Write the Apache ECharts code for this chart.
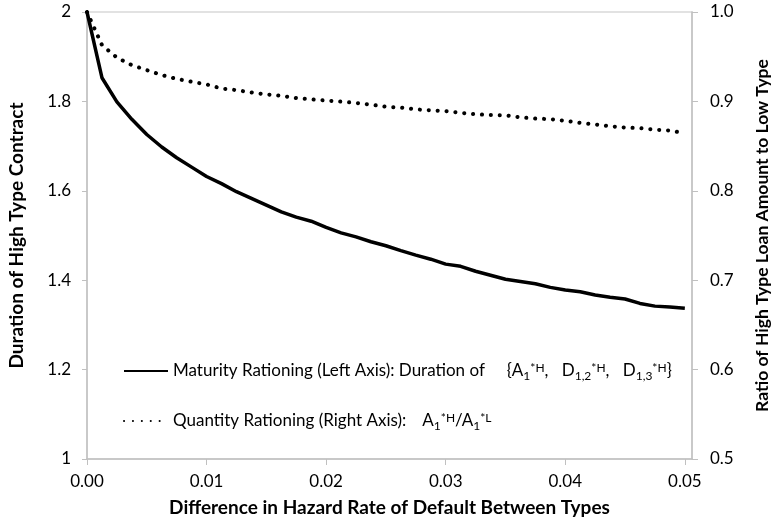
<!DOCTYPE html>
<html>
<head>
<meta charset="utf-8">
<script src="https://cdn.jsdelivr.net/npm/echarts@6/dist/echarts.min.js"></script>
<style>
  html, body { margin: 0; padding: 0; background: #fff; }
  #chart { width: 774px; height: 531px; }
</style>
</head>
<body>
<div id="chart"></div>
<script>
// difference in hazard rate (x)
const hazardDiff = [0, 0.00125, 0.0025, 0.00375, 0.005, 0.00625, 0.0075, 0.00875, 0.01, 0.01125,
  0.0125, 0.01375, 0.015, 0.01625, 0.0175, 0.01875, 0.02, 0.02125, 0.0225, 0.02375,
  0.025, 0.02625, 0.0275, 0.02875, 0.03, 0.03125, 0.0325, 0.03375, 0.035, 0.03625,
  0.0375, 0.03875, 0.04, 0.04125, 0.0425, 0.04375, 0.045, 0.04625, 0.0475, 0.04875, 0.05];
// maturity rationing, left axis
const durationHigh = [2.0, 1.853, 1.799, 1.76, 1.726, 1.698, 1.674, 1.653, 1.632, 1.616,
  1.598, 1.583, 1.568, 1.553, 1.541, 1.532, 1.518, 1.506, 1.497, 1.486,
  1.477, 1.466, 1.456, 1.447, 1.436, 1.431, 1.42, 1.411, 1.402, 1.397,
  1.392, 1.384, 1.378, 1.374, 1.367, 1.362, 1.358, 1.348, 1.342, 1.340, 1.337];
// quantity rationing, right axis
const loanRatio = [1.0, 0.963, 0.949, 0.9406, 0.935, 0.9294, 0.9252, 0.922, 0.919, 0.9144,
  0.9126, 0.910, 0.9078, 0.9063, 0.9037, 0.9022, 0.901, 0.8997, 0.8983, 0.8963,
  0.894, 0.8931, 0.8911, 0.89, 0.8892, 0.8872, 0.8856, 0.8848, 0.8844, 0.8822,
  0.8808, 0.8802, 0.8783, 0.8759, 0.8742, 0.8722, 0.8708, 0.87, 0.8684, 0.8674, 0.8644];

const FONT = 'Lato';
const axisGray = '#c0c0c0';

let chart = echarts.init(document.getElementById('chart'));

const rich = {
  t: { fontFamily: FONT, fontSize: 17, color: '#000', lineHeight: 24, verticalAlign: 'middle' },
  sub: { fontFamily: FONT, fontSize: 12, color: '#000', lineHeight: 24, verticalAlign: 'bottom', padding: [0, 0, 1, 0] },
  sup: { fontFamily: FONT, fontSize: 12, color: '#000', lineHeight: 24, verticalAlign: 'top', padding: [3, 0, 0, 0] },
  gap1: { width: 22 },
  gap2: { width: 16 },
  sp: { width: 9 }
};

let option = {
  animation: false,
  backgroundColor: '#fff',
  grid: {
    left: 87, right: 82, top: 12, bottom: 72,
    outerBoundsMode: 'none',
    show: true, borderColor: '#d9d9d9', borderWidth: 1.5
  },
  legend: {
    orient: 'vertical',
    left: 118, top: 354,
    itemWidth: 44, itemHeight: 14,
    itemGap: 26,
    selectedMode: false,
    itemStyle: { color: 'rgba(0,0,0,0)', borderColor: 'rgba(0,0,0,0)', borderWidth: 0, opacity: 0 },
    textStyle: { fontFamily: FONT, fontSize: 17, color: '#000', rich: rich },
    formatter: function (name) {
      if (name === 'maturity') {
        return '{t|Maturity Rationing (Left Axis): Duration of}{gap1|}{t|{A}{sub|1}{sup|*H}{t|,}{sp|}{t| D}{sub|1,2}{sup|*H}{t|,}{sp|}{t| D}{sub|1,3}{sup|*H}}';
      }
      return '{t|Quantity Rationing (Right Axis):}{gap2|}{t|A}{sub|1}{sup|*H}{t|/A}{sub|1}{sup|*L}';
    },
    data: ['maturity', 'quantity']
  },
  xAxis: {
    type: 'value',
    min: 0, max: 0.0506, interval: 0.01,
    name: 'Difference in Hazard Rate of Default Between Types',
    nameLocation: 'middle', nameGap: 39,
    nameTextStyle: { fontFamily: FONT, fontSize: 19, fontWeight: 'bold', color: '#000' },
    axisLine: { show: true, lineStyle: { color: axisGray, width: 1.5 } },
    axisTick: { show: true, length: 6, lineStyle: { color: axisGray } },
    axisLabel: {
      fontFamily: FONT, fontSize: 17, color: '#000', margin: 14, showMaxLabel: false,
      formatter: v => v.toFixed(2)
    },
    splitLine: { show: false }
  },
  yAxis: [{
    type: 'value', position: 'left',
    min: 1, max: 2, interval: 0.2,
    name: 'Duration of High Type Contract',
    nameLocation: 'middle', nameGap: 61, nameRotate: 90,
    nameTextStyle: { fontFamily: FONT, fontSize: 19, fontWeight: 'bold', color: '#000' },
    axisLine: { show: true, lineStyle: { color: axisGray, width: 1.5 } },
    axisTick: { show: true, length: 5, lineStyle: { color: axisGray } },
    axisLabel: { fontFamily: FONT, fontSize: 17, color: '#000', margin: 16 },
    splitLine: { show: false }
  }, {
    type: 'value', position: 'right',
    min: 0.5, max: 1, interval: 0.1,
    name: 'Ratio of High Type Loan Amount to Low Type',
    nameLocation: 'middle', nameGap: 61, nameRotate: 90,
    nameTextStyle: { fontFamily: FONT, fontSize: 17.5, fontWeight: 'bold', color: '#000' },
    axisLine: { show: true, lineStyle: { color: axisGray, width: 1.5 } },
    axisTick: { show: true, length: 6, lineStyle: { color: axisGray } },
    axisLabel: { fontFamily: FONT, fontSize: 17, color: '#000', margin: 18, formatter: v => v.toFixed(1) },
    splitLine: { show: false }
  }],
  series: [{
    name: 'maturity',
    type: 'line',
    yAxisIndex: 0,
    showSymbol: false, symbol: 'none',
    lineStyle: { color: '#000', width: 3.5, join: 'round' },
    itemStyle: { color: '#000' },
    data: hazardDiff.map((x, i) => [x, durationHigh[i]])
  }, {
    name: 'quantity',
    type: 'line',
    yAxisIndex: 1,
    showSymbol: false, symbol: 'none',
    lineStyle: { color: '#000', width: 4, type: [0.1, 8.8], cap: 'round' },
    itemStyle: { color: '#000' },
    data: hazardDiff.map((x, i) => [x, loanRatio[i]])
  }]
};

chart.setOption(option);
</script>
</body>
</html>
